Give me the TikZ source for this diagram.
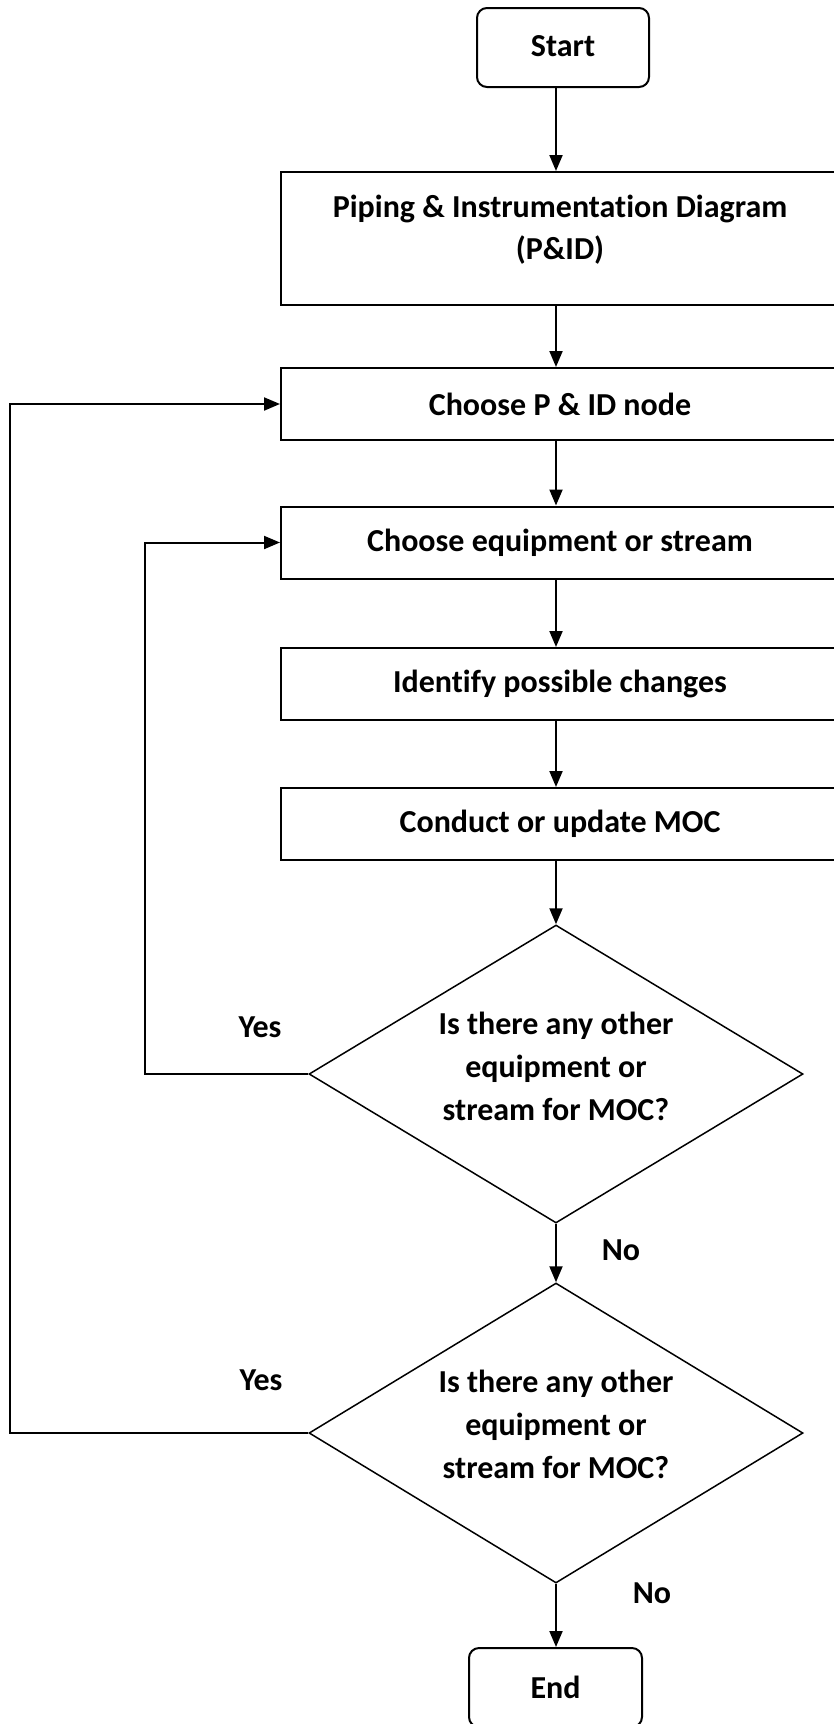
\documentclass[tikz,border=0pt]{standalone}
\usepackage{fontspec}
\setmainfont[Ligatures=NoCommon]{Carlito}
\usetikzlibrary{shapes.geometric,arrows.meta}

\tikzset{
  boxfont/.style={font=\fontsize{16}{21}\selectfont\bfseries},
  stepbox/.style={draw, boxfont, line width=1pt, minimum width=279pt, minimum height=36pt, inner sep=0pt, align=center},
  termbox/.style={draw, boxfont, line width=1pt, rounded corners=5pt, minimum width=86pt, minimum height=39.5pt, inner sep=0pt},
  decbox/.style={draw, diamond, line width=0.75pt, aspect=1.66, inner sep=0pt, minimum width=247pt, minimum height=149pt, font=\fontsize{16}{21.5}\selectfont\bfseries},
  answer/.style={boxfont, inner sep=0pt},
  arr/.style={line width=1pt, -{Triangle[length=8pt,width=6.5pt]}},
}

\begin{document}
\begin{tikzpicture}[x=0.5pt, y=-0.5pt]
    \useasboundingbox (0,0) rectangle (834,1724);
    \clip (0,0) rectangle (834,1724);

    % Steps
    \node[termbox] (start) at (563,47.5) {\raisebox{1.5pt}{Start}};
    \node[stepbox, minimum height=66.5pt] (pid) at (560,238.5) {\begin{tabular}{@{}c@{}}Piping \& Instrumentation Diagram\\(P\&ID)\\[8pt]\end{tabular}};
    \node[stepbox] (pidnode) at (560,404) {Choose P \& ID node};
    \node[stepbox] (equip) at (560,542.5) {Choose equipment or stream};
    \node[stepbox] (changes) at (560,684) {Identify possible changes};
    \node[stepbox] (moc) at (560,824) {Conduct or update MOC};

    % Decisions
    \node[decbox] (check1) at (556,1074) {\begin{tabular}{@{}c@{}}Is there any other\\equipment or\\stream for MOC?\\[5pt]\end{tabular}};
    \node[decbox, minimum height=150pt] (check2) at (556,1433) {\begin{tabular}{@{}c@{}}Is there any other\\equipment or\\stream for MOC?\\[6pt]\end{tabular}};
    \node[termbox, minimum width=86.5pt] (end) at (555.5,1687.5) {End};

    % Yes / No
    \node[answer] (yes1) at (260,1027) {Yes};
    \node[answer] (no1) at (621,1250) {No};
    \node[answer] (yes2) at (261,1380) {Yes};
    \node[answer] (no2) at (652,1593) {No};

    % Main flow
    \draw[arr] (start.south -| check1.north) -- (pid.north -| check1.north);
    \draw[arr] (pid.south -| check1.north) -- (pidnode.north -| check1.north);
    \draw[arr] (pidnode.south -| check1.north) -- (equip.north -| check1.north);
    \draw[arr] (equip.south -| check1.north) -- (changes.north -| check1.north);
    \draw[arr] (changes.south -| check1.north) -- (moc.north -| check1.north);
    \draw[arr] (moc.south -| check1.north) -- (check1.north);
    \draw[arr] (check1.south) -- (check2.north);
    \draw[arr] (check2.south) -- (end.north -| check2.south);

    % Feedback loops
    \draw[arr] (check1.west) -- ++(-163,0) |- (equip.west);
    \draw[arr] (check2.west) -- ++(-298,0) |- (pidnode.west);
\end{tikzpicture}
\end{document}
